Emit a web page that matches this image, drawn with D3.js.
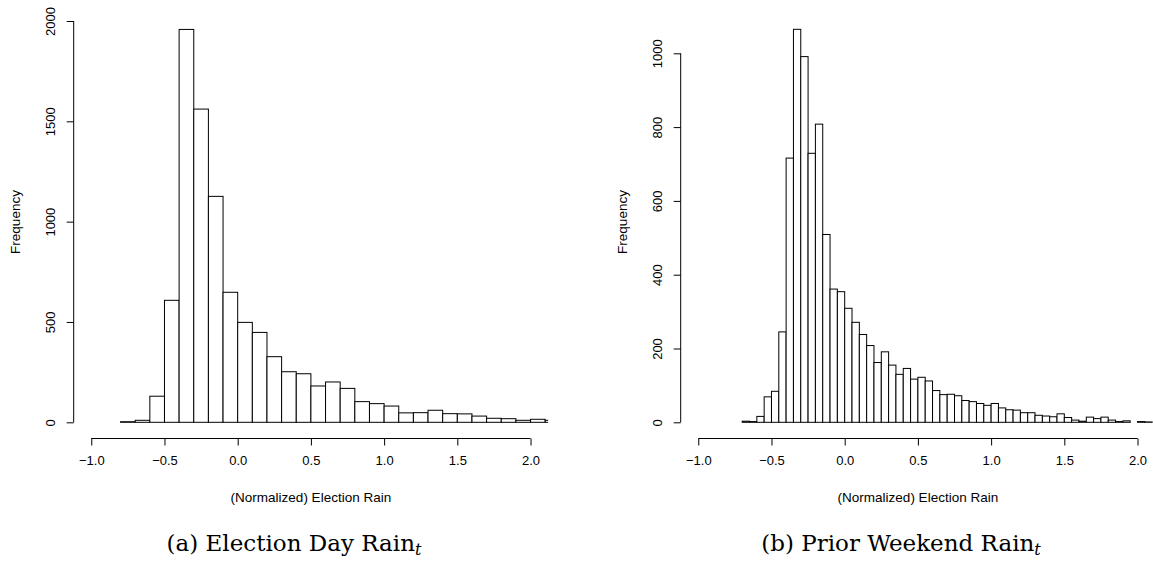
<!DOCTYPE html>
<html>
<head>
<meta charset="utf-8">
<script src="https://cdn.jsdelivr.net/npm/d3@7"></script>
<style>
  body { margin: 0; background: #fff; }
  svg text { font-family: "Liberation Sans", Arial, sans-serif; fill: #000; }
  .caption { font-family: "DejaVu Serif", "Liberation Serif", serif; }
</style>
</head>
<body>
<div id="chart"></div>
<script>
// Histogram counts
var electionDayStart = -0.8, electionDayWidth = 0.1;
var electionDayCounts = [3, 10, 130, 608, 1958, 1561, 1126, 648, 498, 448, 327, 252, 242, 181, 201,
    169, 103, 93, 81, 47, 48, 60, 43, 42, 31, 20, 18, 10, 15, 10];

var priorWeekendStart = -0.7, priorWeekendWidth = 0.05;
var priorWeekendCounts = [3, 2, 16, 69, 84, 245, 716, 1065, 991, 729, 808, 509, 361, 354, 309, 271,
    238, 208, 162, 191, 155, 130, 146, 117, 122, 112, 86, 75, 76, 72, 59, 56, 51, 46, 51, 39, 34, 33,
    26, 26, 19, 17, 15, 23, 13, 6, 3, 14, 10, 14, 6, 2, 4, 0, 2, 1];

// Axis ticks
var xTicks = [-1, -0.5, 0, 0.5, 1, 1.5, 2];
var electionDayYTicks = [0, 500, 1000, 1500, 2000];
var priorWeekendYTicks = [0, 200, 400, 600, 800, 1000];

var xLabel = '(Normalized) Election Rain';
var yLabel = 'Frequency';

var svg = d3.select('#chart')
    .append('svg')
    .attr('width', 1153)
    .attr('height', 569);

// Draw one R-style histogram panel
function drawPanel(opt) {
    var g = svg.append('g');

    var x = d3.scaleLinear().domain([-1.12, 2.12]).range([opt.left, opt.left + 474.4]);
    var y = d3.scaleLinear().domain([0, opt.yRef]).range([422.3, opt.yRefPx]);
    var axisY = 438.5;

    // Clip bars to the plot region
    var clipId = 'clip' + opt.id;
    g.append('clipPath')
        .attr('id', clipId)
        .append('rect')
        .attr('x', x.range()[0])
        .attr('y', 0)
        .attr('width', x.range()[1] - x.range()[0])
        .attr('height', axisY);

    var bins = opt.counts.map(function(c, i) {
        return { x0: opt.start + i * opt.width, x1: opt.start + (i + 1) * opt.width, count: c };
    });

    g.append('g')
        .attr('clip-path', 'url(#' + clipId + ')')
        .selectAll('rect')
        .data(bins)
        .enter()
        .append('rect')
        .attr('x', function(d) { return x(d.x0); })
        .attr('y', function(d) { return y(d.count); })
        .attr('width', function(d) { return x(d.x1) - x(d.x0); })
        .attr('height', function(d) { return y(0) - y(d.count); })
        .style('fill', '#fff')
        .style('stroke', '#000')
        .style('stroke-width', '1px');

    // X axis (line only between first and last tick, like R)
    var xAxis = g.append('g')
        .attr('transform', 'translate(0,' + axisY + ')')
        .call(d3.axisBottom(x).tickValues(xTicks).tickSize(7).tickPadding(10)
            .tickFormat(d3.format('.1f')));
    xAxis.select('.domain').remove();
    xAxis.append('line')
        .attr('x1', x(xTicks[0]))
        .attr('x2', x(xTicks[xTicks.length - 1]))
        .style('stroke', '#000');
    xAxis.selectAll('text').style('font-size', '13px');

    // Y axis at the left edge of the plot region
    var yAxis = g.append('g')
        .attr('transform', 'translate(' + x.range()[0] + ',0)')
        .call(d3.axisLeft(y).tickValues(opt.yTicks).tickSize(7).tickFormat(d3.format('d')));
    yAxis.select('.domain').remove();
    yAxis.append('line')
        .attr('y1', y(opt.yTicks[0]))
        .attr('y2', y(opt.yTicks[opt.yTicks.length - 1]))
        .style('stroke', '#000');
    yAxis.selectAll('.tick text')
        .attr('x', 0)
        .attr('y', -19)
        .attr('dy', 0)
        .attr('transform', 'rotate(-90)')
        .attr('text-anchor', 'middle')
        .style('font-size', '13px');

    // Axis titles
    g.append('text')
        .attr('x', (x.range()[0] + x.range()[1]) / 2)
        .attr('y', 502)
        .attr('text-anchor', 'middle')
        .style('font-size', '13.5px')
        .text(xLabel);

    g.append('text')
        .attr('transform', 'translate(' + (x.range()[0] - 53.5) + ',222) rotate(-90)')
        .attr('text-anchor', 'middle')
        .style('font-size', '13.5px')
        .text(yLabel);

    // Caption below the panel
    var cap = g.append('text')
        .attr('class', 'caption')
        .attr('x', opt.captionX)
        .attr('y', 551)
        .attr('text-anchor', 'middle')
        .style('font-size', '23px');
    cap.append('tspan').text(opt.caption);
    cap.append('tspan')
        .attr('dy', 4)
        .style('font-size', '16px')
        .style('font-style', 'italic')
        .text('t');
}

drawPanel({ id: 'a', left: 73.7, counts: electionDayCounts, start: electionDayStart, width: electionDayWidth,
    yRef: 2000, yRefPx: 21, yTicks: electionDayYTicks, caption: '(a) Election Day Rain', captionX: 294 });

drawPanel({ id: 'b', left: 680.7, counts: priorWeekendCounts, start: priorWeekendStart, width: priorWeekendWidth,
    yRef: 1000, yRefPx: 53.3, yTicks: priorWeekendYTicks, caption: '(b) Prior Weekend Rain', captionX: 901 });
</script>
</body>
</html>
